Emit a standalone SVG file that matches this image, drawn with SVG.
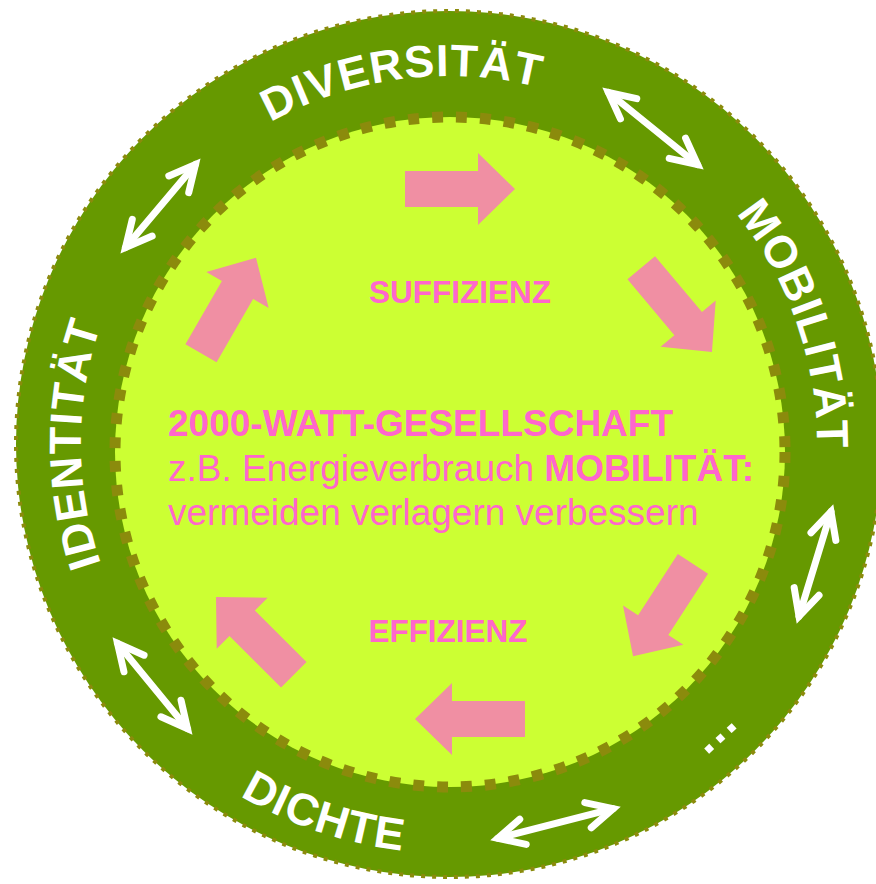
<svg xmlns="http://www.w3.org/2000/svg" width="876" height="884" viewBox="0 0 876 884">
  <style>
    .ring { font-family: "Liberation Sans", Arial, sans-serif; font-weight: bold; font-size: 45px; fill: #ffffff; letter-spacing: 1px; }
    .pinkb { font-family: "Liberation Sans", Arial, sans-serif; font-weight: bold; fill: #ff66cc; }
    .pinkr { font-family: "Liberation Sans", Arial, sans-serif; font-weight: normal; fill: #ff66cc; }
    .conn { fill: none; stroke: #ffffff; stroke-width: 7; stroke-linecap: round; marker-start: url(#dh); marker-end: url(#dh); }
    .pa { fill: #f08fa3; }
  </style>
  <defs>
    <marker id="dh" markerUnits="userSpaceOnUse" markerWidth="60" markerHeight="60" refX="0" refY="0" orient="auto-start-reverse" overflow="visible">
      <path d="M-26,-13 L0,0 L-26,13" fill="none" stroke="#ffffff" stroke-width="7" stroke-linecap="round" stroke-linejoin="miter"/>
    </marker>
    <path id="pinkArrow" d="M-55,-18 L18,-18 L18,-36 L55,0 L18,36 L18,18 L-55,18 Z"/>
    <path id="pDiv" d="M109.3,302.6 A368,368 0 0 1 741.3,220.5"/>
    <path id="pMob" d="M519.2,82.8 A368,368 0 0 1 726.7,685.4"/>
    <path id="pIde" d="M265,762.7 A368,368 0 0 1 265,125.3"/>
    <path id="pDic" d="M48,524.9 A409,409 0 0 0 719.5,750.8"/>
    <path id="pDots" d="M328.9,829.7 A404,404 0 0 0 843.1,355.2"/>
  </defs>

  <g id="outer-ring">
    <circle cx="449" cy="444" r="433" fill="#669900" stroke="#8b8b0c" stroke-width="4" stroke-dasharray="4 7"/>
  </g>
  <g id="inner-circle">
    <circle cx="450" cy="452" r="335" fill="#ccff33" stroke="#8b8b0c" stroke-width="11" stroke-dasharray="11 13"/>
  </g>

  <g id="label-diversitaet">
    <text class="ring"><textPath href="#pDiv" startOffset="50%" text-anchor="middle">DIVERSITÄT</textPath></text>
  </g>
  <g id="label-mobilitaet">
    <text class="ring"><textPath href="#pMob" startOffset="50%" text-anchor="middle">MOBILITÄT</textPath></text>
  </g>
  <g id="label-identitaet">
    <text class="ring"><textPath href="#pIde" startOffset="50%" text-anchor="middle">IDENTITÄT</textPath></text>
  </g>
  <g id="label-dichte">
    <text class="ring"><textPath href="#pDic" startOffset="50%" text-anchor="middle">DICHTE</textPath></text>
  </g>
  <g id="label-more">
    <text class="ring" style="font-size:48px;letter-spacing:0"><textPath href="#pDots" startOffset="50%" text-anchor="middle">…</textPath></text>
  </g>

  <g id="connectors">
    <path class="conn" d="M125.5,247.6 L195.5,164.4"/>
    <path class="conn" d="M608.4,92.4 L697.6,164.6"/>
    <path class="conn" d="M831,511.7 L799,616.3"/>
    <path class="conn" d="M613.2,808.7 L497.8,838.3"/>
    <path class="conn" d="M117.5,643.4 L187.5,728.6"/>
  </g>

  <g id="cycle-arrows">
    <use class="pa" href="#pinkArrow" transform="translate(460,189)"/>
    <use class="pa" href="#pinkArrow" transform="translate(676.6,309.9) rotate(50)"/>
    <use class="pa" href="#pinkArrow" transform="translate(663,610) rotate(123)"/>
    <use class="pa" href="#pinkArrow" transform="translate(470,719) rotate(180)"/>
    <use class="pa" href="#pinkArrow" transform="translate(254.9,635.9) rotate(225)"/>
    <use class="pa" href="#pinkArrow" transform="translate(228.5,305.5) rotate(-60)"/>
  </g>

  <g id="label-suffizienz">
    <text class="pinkb" x="460" y="303" font-size="31.5" text-anchor="middle">SUFFIZIENZ</text>
  </g>
  <g id="label-effizienz">
    <text class="pinkb" x="448" y="642" font-size="31.5" text-anchor="middle">EFFIZIENZ</text>
  </g>
  <g id="center-text">
    <text class="pinkb" x="168" y="436" font-size="37">2000-WATT-GESELLSCHAFT</text>
    <text class="pinkr" x="168" y="481" font-size="37">z.B. Energieverbrauch <tspan class="pinkb">MOBILITÄT:</tspan></text>
    <text class="pinkr" x="168" y="525" font-size="37">vermeiden verlagern verbessern</text>
  </g>
</svg>
